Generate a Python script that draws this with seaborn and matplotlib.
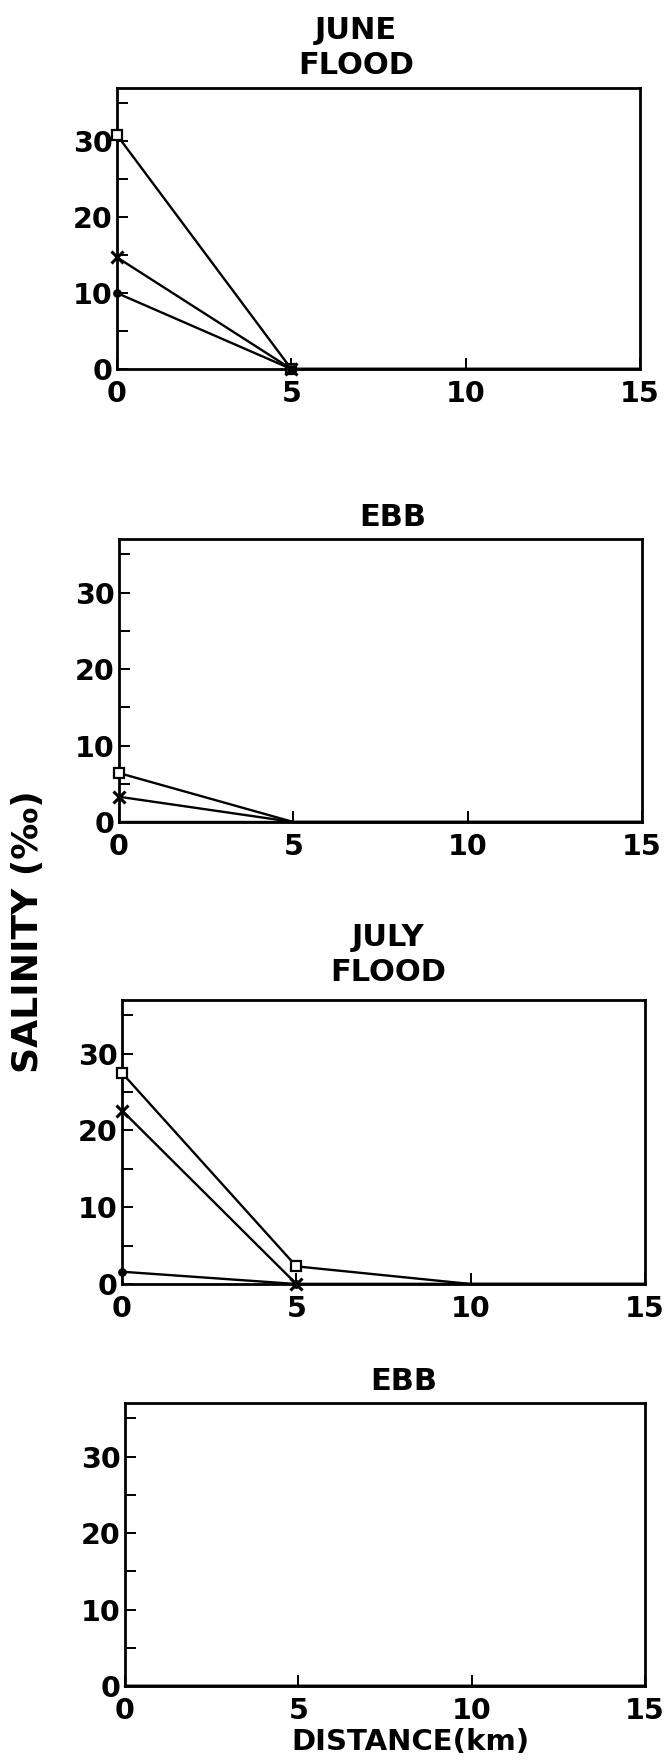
import matplotlib
matplotlib.use("Agg")
import matplotlib.pyplot as plt
from matplotlib.ticker import MultipleLocator, FixedLocator
import seaborn as sns

# Station distances along the estuary (km)
distance_km = [0, 5, 10, 15]

# Salinity (per mille) at bottom / mid / surface depths
june_flood_bottom = [30.8, 0.0, 0.0, 0.0]
june_flood_mid = [14.7, 0.0, 0.0, 0.0]
june_flood_surface = [10.0, 0.0, 0.0, 0.0]

june_ebb_bottom = [6.4, 0.0, 0.0, 0.0]
june_ebb_mid = [3.3, 0.0, 0.0, 0.0]
june_ebb_surface = [0.0, 0.0, 0.0, 0.0]

july_flood_bottom = [27.5, 2.3, 0.0, 0.0]
july_flood_mid = [22.6, 0.0, 0.0, 0.0]
july_flood_surface = [1.6, 0.0, 0.0, 0.0]

july_ebb_bottom = [0.0, 0.0, 0.0, 0.0]
july_ebb_mid = [0.0, 0.0, 0.0, 0.0]
july_ebb_surface = [0.0, 0.0, 0.0, 0.0]

panel_titles = ["JUNE\nFLOOD", "EBB", "JULY\nFLOOD", "EBB"]
x_ticks = [0, 5, 10, 15]
y_ticks = [0, 10, 20, 30]

panels = [
    (june_flood_bottom, june_flood_mid, june_flood_surface),
    (june_ebb_bottom, june_ebb_mid, june_ebb_surface),
    (july_flood_bottom, july_flood_mid, july_flood_surface),
    (july_ebb_bottom, july_ebb_mid, july_ebb_surface),
]

sns.set_style("ticks")
plt.rcParams["font.family"] = ["DejaVu Sans"]
plt.rcParams["font.weight"] = "bold"
plt.rcParams["text.color"] = "black"
plt.rcParams["axes.labelcolor"] = "black"
plt.rcParams["xtick.color"] = "black"
plt.rcParams["ytick.color"] = "black"

W, H = 664, 1762
fig = plt.figure(figsize=(W / 100, H / 100), dpi=100)

# axes boxes in pixels: left, top, right, bottom
boxes = [
    (117, 88, 640, 369),
    (119, 539, 642, 822),
    (122, 1000, 645, 1284),
    (125, 1403, 645, 1686),
]
# title anchors in pixels (centre x, centre y of the text block)
title_pos = [(356, 48), (393, 517), (388, 955), (404, 1382)]

# marker styles per depth: bottom = open square, mid = cross, surface = dot
marker_styles = [
    dict(marker="s", ms=7.5, mfc="white", mec="black", mew=1.6),
    dict(marker="x", ms=8, mec="black", mew=2.2),
    dict(marker="o", ms=5.5, mfc="black", mec="black"),
]

for i, (series, (l, t, r, b), title, (tx, ty)) in enumerate(
        zip(panels, boxes, panel_titles, title_pos)):
    ax = fig.add_axes([l / W, 1 - b / H, (r - l) / W, (b - t) / H])
    flood = "FLOOD" in title
    for vals, mstyle in zip(series, marker_styles):
        marks = [k for k, v in enumerate(vals) if v > 0]
        if flood:
            marks = sorted(set(marks) | {1})
        sns.lineplot(x=distance_km, y=vals, ax=ax, color="black", lw=1.7,
                     markevery=marks if marks else [], clip_on=False,
                     zorder=3, **mstyle)
    ax.set_xlim(0, 15)
    ax.set_ylim(0, 37)
    ax.xaxis.set_major_locator(FixedLocator(x_ticks))
    ax.yaxis.set_major_locator(FixedLocator(y_ticks))
    ax.yaxis.set_minor_locator(MultipleLocator(5))
    ax.set_xticklabels([str(v) for v in x_ticks])
    ax.set_yticklabels([str(v) for v in y_ticks])
    ax.tick_params(axis="both", which="both", direction="in", length=8,
                   width=1.4, colors="black")
    ax.tick_params(axis="both", which="major", labelsize=20.5)
    ax.tick_params(axis="x", pad=8)
    ax.tick_params(axis="y", pad=3)
    for sp in ax.spines.values():
        sp.set_visible(True)
        sp.set_linewidth(2.0)
        sp.set_color("black")
    ax.set_xlabel("")
    ax.set_ylabel("")
    fig.text(tx / W, 1 - ty / H, title, ha="center", va="center",
             fontsize=22, fontweight="bold", linespacing=1.3, color="black")

fig.text(28 / W, 1 - 932 / H, "SALINITY (‰)", rotation=90, ha="center",
         va="center", fontsize=26, fontweight="bold", color="black")
fig.text(410 / W, 1 - 1742 / H, "DISTANCE(km)", ha="center", va="center",
         fontsize=21, fontweight="bold", color="black")

fig.savefig("out.png", dpi=100, facecolor="white")
